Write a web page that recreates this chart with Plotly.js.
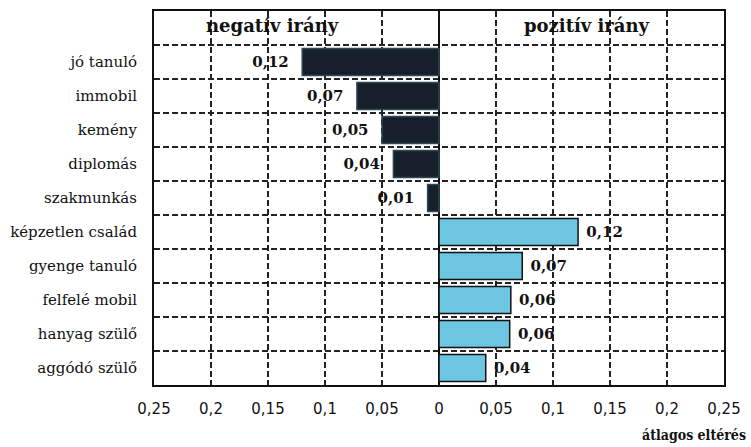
<!DOCTYPE html>
<html>
<head>
<meta charset="utf-8">
<script src="https://cdn.plot.ly/plotly-3.0.1.min.js"></script>
<style>html,body{margin:0;padding:0;background:#fff;}#chart{width:751px;height:447px;}</style>
</head>
<body>
<div id="chart"></div>
<script>
// Data
const negCategories = ["jó tanuló", "immobil", "kemény", "diplomás", "szakmunkás"];
const negValues = [-0.12, -0.072, -0.05, -0.04, -0.01];
const posCategories = ["képzetlen család", "gyenge tanuló", "felfelé mobil", "hanyag szülő", "aggódó szülő"];
const posValues = [0.122, 0.073, 0.063, 0.062, 0.041];
const tickValues = [-0.25, -0.2, -0.15, -0.1, -0.05, 0, 0.05, 0.1, 0.15, 0.2, 0.25];
const tickLabels = ["0,25", "0,2", "0,15", "0,1", "0,05", "0", "0,05", "0,1", "0,15", "0,2", "0,25"];
const headerNeg = "negatív irány";
const headerPos = "pozitív irány";
const xTitle = "átlagos eltérés";

const fmt = v => Math.abs(v).toFixed(2).replace(".", ",");
const allCats = negCategories.concat(posCategories);
const nb = "\u00a0";

// row boundaries (between category slots, incl. header slot at index -1)
const rowBounds = [];
for (let i = -1; i < allCats.length - 1; i++) rowBounds.push(i + 0.5);

const labelFont = {family: "DejaVu Serif, serif", size: 15, color: "#111"};

const traces = [
  {
    type: "bar", orientation: "h",
    y: negCategories, x: negValues,
    text: negValues.map(v => "<b>" + fmt(v) + nb + nb + "</b>"),
    textposition: "outside", cliponaxis: false,
    textfont: labelFont,
    marker: {color: "#17202a", line: {color: "#2e4a52", width: 1.5}},
    width: 0.8, hoverinfo: "skip"
  },
  {
    type: "bar", orientation: "h",
    y: posCategories, x: posValues,
    text: posValues.map(v => "<b>" + nb + fmt(v) + "</b>"),
    textposition: "outside", cliponaxis: false,
    textfont: labelFont,
    marker: {color: "#6cc6e2", line: {color: "#111", width: 1.5}},
    width: 0.8, hoverinfo: "skip"
  },
  // empty trace so that the row-grid axis is drawn
  {type: "scatter", mode: "markers", x: [], y: [], xaxis: "x", yaxis: "y2", hoverinfo: "skip"}
];

const gridStyle = {showgrid: true, gridcolor: "#222", gridwidth: 2, griddash: "6px,3px"};

const layout = {
  width: 751, height: 447,
  margin: {l: 154, r: 27, t: 11, b: 62},
  paper_bgcolor: "#fff", plot_bgcolor: "#fff",
  barmode: "overlay",
  showlegend: false,
  font: {family: "DejaVu Serif, serif", color: "#111"},
  xaxis: Object.assign({
    range: [-0.25, 0.25],
    tickvals: tickValues, ticktext: tickLabels,
    tickfont: {family: "DejaVu Sans, sans-serif", size: 15, color: "#111"},
    ticks: "", ticklabelstandoff: 9,
    zeroline: true, zerolinecolor: "#111", zerolinewidth: 2,
    showline: true, mirror: true, linecolor: "#111", linewidth: 2
  }, gridStyle),
  yaxis: {
    type: "category",
    categoryorder: "array", categoryarray: allCats,
    range: [allCats.length - 0.5, -1.5],
    ticks: "",
    tickfont: {family: "DejaVu Serif, serif", size: 15, color: "#111"},
    ticklabelstandoff: 12,
    showgrid: false,
    zeroline: false,
    showline: true, mirror: true, linecolor: "#111", linewidth: 2
  },
  yaxis2: Object.assign({
    overlaying: "y", side: "left", type: "linear",
    range: [allCats.length - 0.5, -1.5], autorange: false,
    tickmode: "array", tickvals: rowBounds, showticklabels: false, ticks: "",
    zeroline: false, showline: false
  }, gridStyle),
  annotations: [
    {xref: "x", yref: "paper", x: -0.146, y: 1, yanchor: "top", yshift: -2, showarrow: false,
     text: "<b>" + headerNeg + "</b>", font: {family: "DejaVu Serif, serif", size: 18, color: "#111"}},
    {xref: "x", yref: "paper", x: 0.13, y: 1, yanchor: "top", yshift: -2, showarrow: false,
     text: "<b>" + headerPos + "</b>", font: {family: "DejaVu Serif, serif", size: 18, color: "#111"}},
    {xref: "paper", yref: "paper", x: 1, y: 0, xanchor: "right", yanchor: "middle", xshift: 24, yshift: -50, showarrow: false,
     text: "<b>" + xTitle + "</b>", font: {family: "DejaVu Serif Condensed, DejaVu Serif, serif", size: 14, color: "#111"}}
  ]
};

Plotly.newPlot("chart", traces, layout, {displayModeBar: false, staticPlot: true});
</script>
</body>
</html>
